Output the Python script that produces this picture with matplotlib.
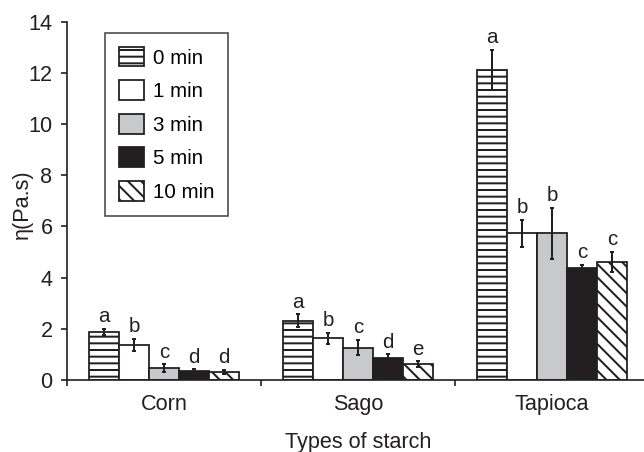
import matplotlib.pyplot as plt
import numpy as np

'''
viscosity of starch pastes after different shearing times
'''

plt.rcParams['font.family'] = ['Liberation Sans', 'DejaVu Sans']
plt.rcParams['hatch.linewidth'] = 1.8
plt.rcParams['hatch.color'] = '#231f20'

starches = ["Corn", "Sago", "Tapioca"]
times = ["0 min", "1 min", "3 min", "5 min", "10 min"]

# mean viscosity (Pa.s), one list per shearing time, ordered Corn, Sago, Tapioca
visc_0 = [1.89, 2.32, 12.11]
visc_1 = [1.37, 1.63, 5.73]
visc_3 = [0.46, 1.26, 5.73]
visc_5 = [0.35, 0.85, 4.36]
visc_10 = [0.32, 0.61, 4.62]

# error bars
err_0 = [0.12, 0.25, 0.78]
err_1 = [0.23, 0.22, 0.53]
err_3 = [0.15, 0.30, 1.00]
err_5 = [0.07, 0.15, 0.15]
err_10 = [0.07, 0.12, 0.40]

# significance letters
let_0 = ["a", "a", "a"]
let_1 = ["b", "b", "b"]
let_3 = ["c", "c", "b"]
let_5 = ["d", "d", "c"]
let_10 = ["d", "e", "c"]

values = [visc_0, visc_1, visc_3, visc_5, visc_10]
errors = [err_0, err_1, err_3, err_5, err_10]
letters = [let_0, let_1, let_3, let_5, let_10]

dark = '#231f20'
faces = ['white', 'white', '#c8c9cb', dark, 'white']
hatches = ['--', None, None, None, '\\\\']

fig = plt.figure(figsize=(644 / 80, 452 / 80), dpi=80)
ax = fig.add_axes([67 / 644, 72 / 452, 582 / 644, 358.3 / 452])

x = np.arange(len(starches))
width = 0.155
for i in range(len(times)):
    pos = x + (i - 2) * width
    ax.bar(pos, values[i], width, color=faces[i], edgecolor=dark,
           linewidth=1.6, hatch=hatches[i], label=times[i], zorder=2)
    ax.errorbar(pos, values[i], yerr=errors[i], fmt='none', ecolor=dark,
                elinewidth=1.8, capsize=1.5, capthick=1.8, zorder=3)
    # letters above the error bars
    for p, v, e, t in zip(pos, values[i], errors[i], letters[i]):
        ax.annotate(t, (p, v + e), xytext=(0, 6), textcoords='offset points',
                    ha='center', va='baseline', fontsize=18.5, color=dark)

ax.set_xlim(-0.5, 2.5)
ax.set_ylim(0, 14)
ax.set_yticks(np.arange(0, 15, 2))
ax.set_xticks([-0.5, 0.5, 1.5])
ax.set_xticklabels([])
ax.set_xticks(x, minor=True)
ax.set_xticklabels(starches, minor=True, fontsize=19.5)
ax.tick_params(axis='x', which='minor', length=0, pad=13, colors=dark)
ax.tick_params(axis='x', which='major', length=5.5, width=1.5, direction='out', colors=dark)
ax.tick_params(axis='y', length=5.5, width=1.5, direction='out', labelsize=19.5, colors=dark, pad=7.5)

for s in ['top', 'right']:
    ax.spines[s].set_visible(False)
for s in ['left', 'bottom']:
    ax.spines[s].set_linewidth(1.5)
    ax.spines[s].set_color(dark)
    ax.spines[s].set_zorder(4)

ax.set_ylabel("η(Pa.s)", fontsize=19.5, color=dark)
ax.yaxis.set_label_coords(-0.058, 0.49)
ax.set_xlabel("Types of starch", fontsize=19.5, color=dark, labelpad=15)

leg = ax.legend(loc='upper left', bbox_to_anchor=(105 / 644, 1 - 32.7 / 452),
                bbox_transform=fig.transFigure, borderaxespad=0, fontsize=18.5,
                frameon=True, fancybox=False, handlelength=1.2, handleheight=1.1,
                labelspacing=0.62, handletextpad=0.45, borderpad=0.68)
leg.get_frame().set_edgecolor(dark)
leg.get_frame().set_linewidth(1.5)

fig.savefig("out.png", dpi=80)
